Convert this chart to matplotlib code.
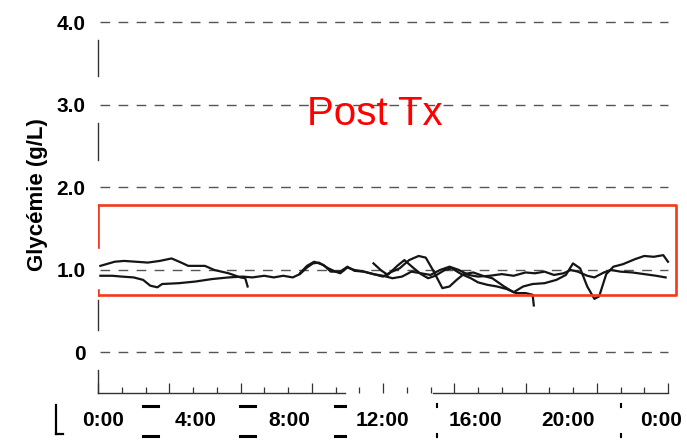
import matplotlib.pyplot as plt
from matplotlib.lines import Line2D

plt.rcParams['font.family'] = ['Liberation Sans', 'DejaVu Sans']

# glycemia traces (hours, g/L)
h1 = [0.1, 0.6, 1.0, 1.5, 1.9, 2.2, 2.5, 2.7, 3.4, 4.1, 4.8, 5.5, 6.1, 6.5, 7.0, 7.4, 7.8, 8.2,
      8.5, 8.8, 9.05, 9.3, 9.7, 10.0, 10.2, 10.5, 10.8, 11.2, 11.6, 12.0, 12.3, 12.7, 13.1, 13.5,
      13.8, 14.1, 14.5, 14.8, 15.1, 15.4, 15.8, 16.2, 16.6, 17.1, 17.5, 17.9, 18.3, 18.8, 19.3,
      19.7, 20.0, 20.3, 20.6, 20.9, 21.1, 21.4, 21.7, 22.1, 22.6, 23.0, 23.4, 23.8, 24.0]
g1 = [0.93, 0.93, 0.92, 0.91, 0.88, 0.81, 0.79, 0.83, 0.84, 0.86, 0.89, 0.91, 0.92, 0.91, 0.93,
      0.91, 0.93, 0.91, 0.95, 1.03, 1.08, 1.09, 1.02, 0.98, 0.96, 1.03, 1.00, 0.98, 0.95, 0.92,
      0.97, 1.02, 1.12, 1.17, 1.15, 1.00, 0.78, 0.80, 0.88, 0.95, 0.97, 0.93, 0.90, 0.80, 0.73,
      0.80, 0.83, 0.84, 0.88, 0.94, 1.08, 1.02, 0.80, 0.65, 0.68, 0.95, 1.04, 1.07, 1.13, 1.17,
      1.16, 1.18, 1.10]

h2 = [0.1, 0.7, 1.1, 1.6, 2.1, 2.6, 3.1, 3.5, 3.8, 4.5, 4.9, 5.5, 6.0, 6.2, 6.3]
g2 = [1.05, 1.10, 1.11, 1.10, 1.09, 1.11, 1.14, 1.09, 1.05, 1.05, 1.00, 0.96, 0.91, 0.90, 0.80]

h3 = [8.5, 8.8, 9.1, 9.5, 9.8, 10.2, 10.5, 10.8, 11.2, 11.6, 12.0, 12.4, 12.8, 13.2, 13.6, 14.0,
      14.4, 14.8, 15.2, 15.6, 16.0, 16.5, 17.0, 17.5, 18.0, 18.4, 18.8, 19.2, 19.6, 19.9, 20.2,
      20.6, 20.9, 21.3, 21.6, 22.0, 22.5, 23.0, 23.5, 23.9]
g3 = [0.96, 1.05, 1.10, 1.06, 0.98, 0.98, 1.04, 0.99, 0.98, 0.95, 0.93, 0.90, 0.92, 0.98, 0.96,
      0.94, 1.00, 1.04, 1.00, 0.94, 0.92, 0.93, 0.95, 0.93, 0.97, 0.96, 0.98, 0.94, 0.96, 1.00,
      0.98, 0.93, 0.91, 0.97, 1.00, 0.98, 0.97, 0.95, 0.93, 0.91]

h4 = [11.6, 11.9, 12.2, 12.6, 12.9, 13.3, 13.6, 13.9, 14.2, 14.6, 14.9, 15.3, 15.7, 16.0, 16.4,
      16.8, 17.2, 17.6, 18.0, 18.3, 18.35]
g4 = [1.08, 1.00, 0.94, 1.05, 1.12, 1.02, 0.95, 0.90, 0.93, 1.00, 1.02, 0.95, 0.90, 0.85, 0.82,
      0.80, 0.77, 0.72, 0.72, 0.70, 0.57]

grid_levels = [0, 1, 2, 3, 4]
ytick_labels = ['0', '1.0', '2.0', '3.0', '4.0']
hour_labels = ['0:00', '4:00', '8:00', '12:00', '16:00', '20:00', '0:00']
target_low, target_high = 0.70, 1.79

W, H = 687, 441
fig = plt.figure(figsize=(W / 100, H / 100), dpi=100)
ax = fig.add_axes([98 / W, 1 - 393 / H, 590 / W, 388 / H])
ax.set_xlim(0, 590 / 23.75)
ax.set_ylim(-0.491, 4.212)
for s in ax.spines.values():
    s.set_visible(False)

# dashed reference lines
ax.hlines(grid_levels, 0.1, 24, colors='#555555', linestyles=(0, (7, 6)), lw=1.0)

# traces
for h, g in [(h1, g1), (h2, g2), (h3, g3), (h4, g4)]:
    ax.plot(h, g, color='#151515', lw=1.6, solid_joinstyle='round')

# red target box (left side broken like the scan)
red = '#f2391c'
ax.plot([0.05, 24.34, 24.34, 0.05], [target_high, target_high, target_low, target_low],
        color=red, lw=1.9, clip_on=False)
ax.plot([0.0, 0.0], [target_high, 1.28], color=red, lw=1.9)
ax.plot([0.0, 0.0], [0.76, target_low], color=red, lw=1.9)

# x axis: hourly ticks, longer every 3 h, broken baseline
ax.set_xticks(range(0, 25, 3))
ax.set_xticks(range(0, 25), minor=True)
ax.tick_params(axis='x', which='major', direction='in', length=7, width=0.9, color='#333333',
               labelbottom=False)
ax.tick_params(axis='x', which='minor', direction='in', length=4, width=0.9, color='#333333')
ax.plot([0, 10.4], [-0.491, -0.491], color='#333333', lw=1.0, clip_on=False)
ax.plot([14.1, 24], [-0.491, -0.491], color='#333333', lw=1.0, clip_on=False)

# y tick labels
ax.set_yticks(grid_levels)
ax.set_yticklabels(ytick_labels, fontsize=15, fontweight='bold')
ax.tick_params(axis='y', length=0, pad=9)

# the hour row of the scanned table is a bit narrower than the axis
for i, lab in enumerate(hour_labels):
    ax.text(0.2 + i * 3.92, -0.82, lab, ha='center', va='center', fontsize=15, fontweight='bold')

fig.text(38 / W, 1 - 195 / H, 'Glycémie (g/L)', rotation=90, ha='center', va='center',
         fontsize=16, fontweight='bold')
ax.text(11.66, 2.89, 'Post Tx', color='red', fontsize=29, ha='center', va='center')


def px(x, y):
    return x / W, 1 - y / H


def seg(x0, y0, x1, y1, lw=1.0, c='#333333'):
    (a, b), (cc, d) = px(x0, y0), px(x1, y1)
    fig.add_artist(Line2D([a, cc], [b, d], color=c, lw=lw))


# broken left axis of the scan
for y0, y1 in [(40, 76), (123, 160), (300, 330), (370, 393)]:
    seg(98, y0, 98, y1)

# table separators under the hour labels
seg(56, 405, 56, 434, lw=1.6, c='black')
seg(56, 434, 63, 434, lw=1.6, c='black')
for x0, x1 in [(143, 158), (240, 255), (335, 345)]:
    seg(x0, 406, x1, 406, lw=2.2, c='black')
    seg(x0, 436, x1, 436, lw=2.2, c='black')
for x0 in [437, 621]:
    seg(x0, 404, x0, 407, lw=1.5, c='black')
    seg(x0, 434, x0, 437, lw=1.5, c='black')

fig.savefig('out.png', dpi=100)
